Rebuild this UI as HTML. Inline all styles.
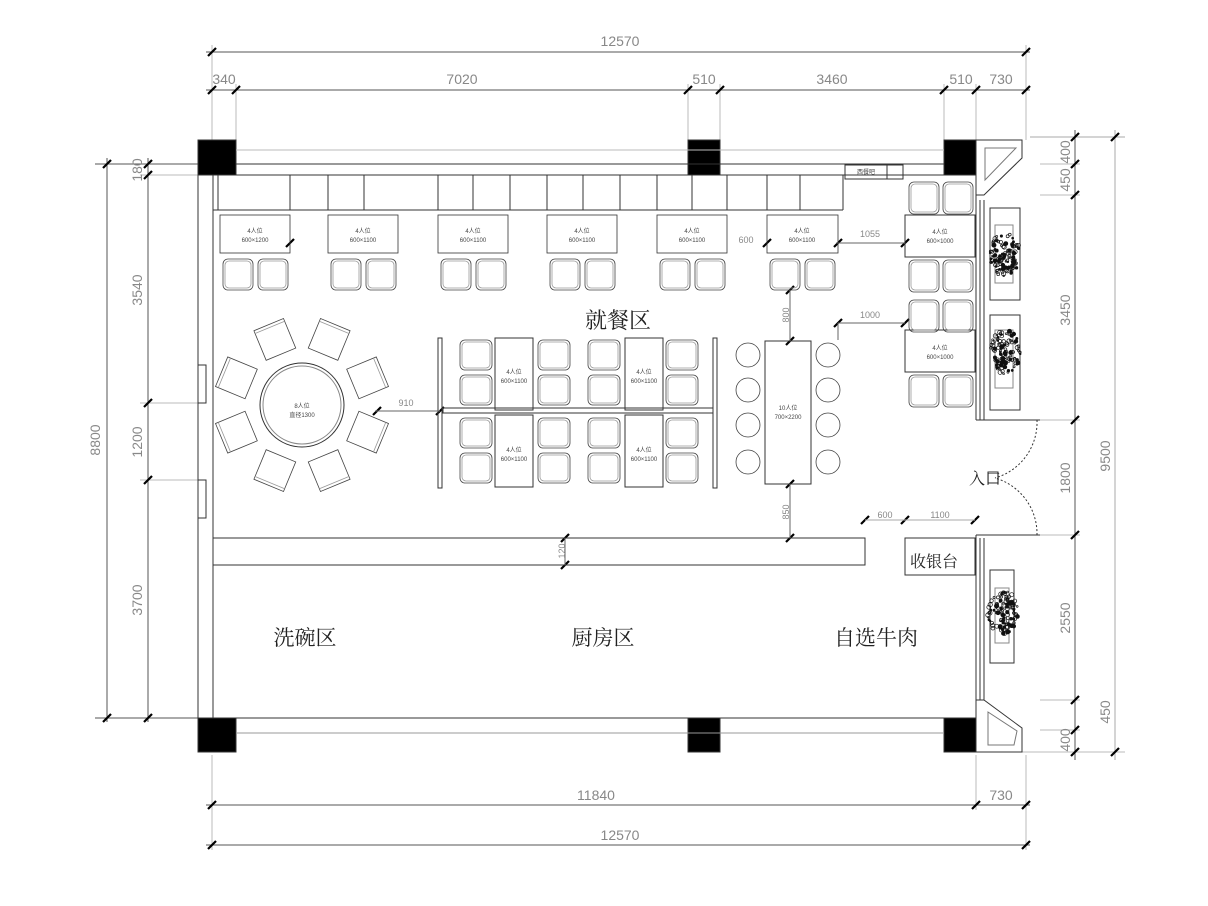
<!DOCTYPE html>
<html><head><meta charset="utf-8"><style>
html,body{margin:0;padding:0;background:#fff;width:1208px;height:906px;overflow:hidden}
svg{display:block}
.d{font-family:"Liberation Sans",sans-serif;fill:#888;font-size:14px}
.s{font-family:"Liberation Serif","Noto Serif CJK SC",serif;fill:#222}
.t{font-family:"Liberation Sans","Noto Sans CJK SC",sans-serif;fill:#444;font-size:6px}
</style></head><body>
<svg id="g" width="1208" height="906" viewBox="0 0 1208 906" xmlns="http://www.w3.org/2000/svg">
<g stroke="#555" stroke-width="1" fill="none" id="lines">
<line x1="206" y1="52" x2="1030" y2="52"/>
<line x1="206" y1="90" x2="1030" y2="90"/>
<line x1="1030" y1="137" x2="1125" y2="137" stroke="#aaa"/>
<line x1="107" y1="158" x2="107" y2="722"/>
<line x1="148" y1="158" x2="148" y2="722"/>
<line x1="95" y1="164" x2="198" y2="164"/>
<line x1="95" y1="718" x2="198" y2="718"/>
<line x1="1075" y1="130" x2="1075" y2="760"/>
<line x1="1115" y1="130" x2="1115" y2="760" stroke="#aaa"/>
<line x1="206" y1="805" x2="1030" y2="805"/>
<line x1="206" y1="845" x2="1030" y2="845"/>
</g>
<g stroke="#bbb" stroke-width="1" fill="none">
<line x1="212" y1="45" x2="212" y2="140"/><line x1="1026" y1="45" x2="1026" y2="140"/>
<line x1="236" y1="84" x2="236" y2="140"/><line x1="688" y1="84" x2="688" y2="140"/>
<line x1="720" y1="84" x2="720" y2="140"/><line x1="944" y1="84" x2="944" y2="140"/>
<line x1="976" y1="84" x2="976" y2="140"/>
<line x1="140" y1="175" x2="198" y2="175"/><line x1="140" y1="403" x2="198" y2="403"/><line x1="140" y1="480" x2="198" y2="480"/>
<line x1="1040" y1="164" x2="1080" y2="164"/><line x1="1040" y1="195" x2="1080" y2="195"/>
<line x1="1030" y1="420" x2="1080" y2="420"/><line x1="1030" y1="535" x2="1080" y2="535"/>
<line x1="1040" y1="700" x2="1080" y2="700"/><line x1="1040" y1="730" x2="1080" y2="730"/>
<line x1="1020" y1="752" x2="1125" y2="752"/>
<line x1="212" y1="755" x2="212" y2="850"/><line x1="976" y1="755" x2="976" y2="810"/><line x1="1026" y1="755" x2="1026" y2="850"/>
</g>
<g id="ticks" stroke="#000" stroke-width="2.2"></g>
<g class="d">
<text x="620" y="46" text-anchor="middle">12570</text>
<text x="224" y="84" text-anchor="middle">340</text>
<text x="462" y="84" text-anchor="middle">7020</text>
<text x="704" y="84" text-anchor="middle">510</text>
<text x="832" y="84" text-anchor="middle">3460</text>
<text x="961" y="84" text-anchor="middle">510</text>
<text x="1001" y="84" text-anchor="middle">730</text>
<text x="596" y="800" text-anchor="middle">11840</text>
<text x="1001" y="800" text-anchor="middle">730</text>
<text x="620" y="840" text-anchor="middle">12570</text>
<text transform="translate(100,440) rotate(-90)" text-anchor="middle">8800</text>
<text transform="translate(142,170) rotate(-90)" text-anchor="middle">180</text>
<text transform="translate(142,290) rotate(-90)" text-anchor="middle">3540</text>
<text transform="translate(142,442) rotate(-90)" text-anchor="middle">1200</text>
<text transform="translate(142,600) rotate(-90)" text-anchor="middle">3700</text>
<text transform="translate(1070,152) rotate(-90)" text-anchor="middle">400</text>
<text transform="translate(1070,180) rotate(-90)" text-anchor="middle">450</text>
<text transform="translate(1070,310) rotate(-90)" text-anchor="middle">3450</text>
<text transform="translate(1070,478) rotate(-90)" text-anchor="middle">1800</text>
<text transform="translate(1070,618) rotate(-90)" text-anchor="middle">2550</text>
<text transform="translate(1110,712) rotate(-90)" text-anchor="middle">450</text>
<text transform="translate(1070,740) rotate(-90)" text-anchor="middle">400</text>
<text transform="translate(1110,456) rotate(-90)" text-anchor="middle">9500</text>
</g>
<g class="d" style="font-size:9px">
<text x="746" y="243" text-anchor="middle">600</text>
<text x="870" y="237" text-anchor="middle">1055</text>
<text x="870" y="318" text-anchor="middle">1000</text>
<text x="406" y="406" text-anchor="middle">910</text>
<text x="885" y="518" text-anchor="middle">600</text>
<text x="940" y="518" text-anchor="middle">1100</text>
<text transform="translate(789,315) rotate(-90)" text-anchor="middle">800</text>
<text transform="translate(789,512) rotate(-90)" text-anchor="middle">850</text>
<text transform="translate(565,551) rotate(-90)" text-anchor="middle">120</text>
</g>
<g stroke="#333" stroke-width="1" fill="none">
<rect x="198" y="140" width="38" height="35" fill="#000"/>
<rect x="688" y="140" width="32" height="35" fill="#000"/>
<rect x="944" y="140" width="32" height="35" fill="#000"/>
<rect x="198" y="718" width="38" height="34" fill="#000"/>
<rect x="688" y="718" width="32" height="34" fill="#000"/>
<rect x="944" y="718" width="32" height="34" fill="#000"/>
<line x1="236" y1="150" x2="944" y2="150" stroke="#bbb"/>
<line x1="236" y1="164" x2="944" y2="164"/>
<line x1="236" y1="175" x2="944" y2="175"/>
<line x1="198" y1="175" x2="198" y2="718"/>
<line x1="213" y1="175" x2="213" y2="718"/>
<line x1="236" y1="718" x2="944" y2="718"/>
<line x1="236" y1="733" x2="944" y2="733" stroke="#999"/>
<rect x="198" y="365" width="8" height="38"/><rect x="198" y="480" width="8" height="38"/>
<line x1="213" y1="210" x2="843" y2="210"/>
<path d="M218 175V210M290 175V210M328 175V210M364 175V210M438 175V210M473 175V210M510 175V210M547 175V210M583 175V210M620 175V210M657 175V210M692 175V210M727 175V210M767 175V210M800 175V210M843 175V210"/>
<rect x="845" y="165" width="42" height="14"/><rect x="887" y="165" width="16" height="14"/>
<line x1="903" y1="175" x2="944" y2="175"/>
<path d="M976 140H1022L1022 158 984 195H976Z"/>
<path d="M985 148H1016L985 180Z" stroke="#777"/>
<line x1="976" y1="195" x2="976" y2="420"/><line x1="980" y1="200" x2="980" y2="420"/><line x1="984" y1="200" x2="984" y2="420"/>
<line x1="976" y1="420" x2="1040" y2="420"/>
<line x1="976" y1="535" x2="1040" y2="535"/>
<line x1="976" y1="535" x2="976" y2="718"/><line x1="980" y1="538" x2="980" y2="700"/><line x1="984" y1="538" x2="984" y2="700"/>
<path d="M976 700H984L1022 728V752H976Z"/>
<path d="M988 712L1017 731 1014 745H988Z" stroke="#777"/>
<line x1="976" y1="752" x2="1022" y2="752"/>
<rect x="990" y="208" width="30" height="92"/><rect x="995" y="225" width="18" height="58" stroke="#888"/>
<rect x="990" y="315" width="30" height="95"/><rect x="995" y="330" width="18" height="58" stroke="#888"/>
<rect x="990" y="570" width="24" height="93"/><rect x="995" y="588" width="14" height="55" stroke="#888"/>
<path d="M1037 420A58 58 0 0 1 995 478" stroke-dasharray="2 2"/>
<path d="M1037 535A58 58 0 0 0 995 478" stroke-dasharray="2 2"/>
<rect x="988" y="472" width="10" height="11"/>
<rect x="213" y="538" width="652" height="27"/>
<rect x="905" y="538" width="70" height="37"/>
<rect x="438" y="338" width="4" height="150"/><rect x="713" y="338" width="4" height="150"/>
<rect x="443" y="408" width="270" height="5"/>
<rect x="495" y="338" width="38" height="72"/><rect x="625" y="338" width="38" height="72"/>
<rect x="495" y="415" width="38" height="72"/><rect x="625" y="415" width="38" height="72"/>
<rect x="765" y="341" width="46" height="143"/>
<circle cx="302" cy="405" r="42"/><circle cx="302" cy="405" r="39" stroke="#888"/>
<rect x="905" y="215" width="70" height="42"/><rect x="905" y="330" width="70" height="42"/>
</g>
<g stroke="#666" stroke-width="1" fill="none">
<line x1="836" y1="243" x2="905" y2="243"/>
<line x1="838" y1="323" x2="905" y2="323"/><line x1="838" y1="323" x2="838" y2="340"/>
<line x1="790" y1="290" x2="790" y2="341"/>
<line x1="790" y1="484" x2="790" y2="538"/>
<line x1="375" y1="411" x2="440" y2="411"/>
<line x1="565" y1="538" x2="565" y2="565"/>
<line x1="865" y1="520" x2="975" y2="520" stroke="#aaa"/>
</g>
<g id="furn" stroke="#444" stroke-width="0.8" fill="none"></g>
<g id="plants" stroke="#111" stroke-width="0.7" fill="none"></g>
<g class="t" text-anchor="middle">
<text x="255" y="233">4人位</text><text x="255" y="242">600×1200</text>
<text x="363" y="233">4人位</text><text x="363" y="242">600×1100</text>
<text x="473" y="233">4人位</text><text x="473" y="242">600×1100</text>
<text x="582" y="233">4人位</text><text x="582" y="242">600×1100</text>
<text x="692" y="233">4人位</text><text x="692" y="242">600×1100</text>
<text x="802" y="233">4人位</text><text x="802" y="242">600×1100</text>
<text x="940" y="234">4人位</text><text x="940" y="243">600×1000</text>
<text x="940" y="350">4人位</text><text x="940" y="359">600×1000</text>
<text x="514" y="374">4人位</text><text x="514" y="383">600×1100</text>
<text x="644" y="374">4人位</text><text x="644" y="383">600×1100</text>
<text x="514" y="452">4人位</text><text x="514" y="461">600×1100</text>
<text x="644" y="452">4人位</text><text x="644" y="461">600×1100</text>
<text x="788" y="410">10人位</text><text x="788" y="419">700×2200</text>
<text x="302" y="408">8人位</text><text x="302" y="417">直径1300</text>
<text x="866" y="174">西餐吧</text>
</g>
<g class="s">
<text x="618" y="328" font-size="22" text-anchor="middle">就餐区</text>
<text x="305" y="645" font-size="21" text-anchor="middle">洗碗区</text>
<text x="603" y="645" font-size="21" text-anchor="middle">厨房区</text>
<text x="876" y="645" font-size="21" text-anchor="middle">自选牛肉</text>
<text x="934" y="567" font-size="16" text-anchor="middle">收银台</text>
<text x="985" y="484" font-size="16" text-anchor="middle">入口</text>
</g>
</svg>
<script>
var NS="http://www.w3.org/2000/svg";
function el(p,t,a){var e=document.createElementNS(NS,t);for(var k in a)e.setAttribute(k,a[k]);p.appendChild(e);return e;}
var T=document.getElementById("ticks");
function tk(x,y){el(T,"line",{x1:x-4,y1:y+4,x2:x+4,y2:y-4});}
[212,1026].forEach(function(x){tk(x,52)});
[212,236,688,720,944,976,1026].forEach(function(x){tk(x,90)});
[212,976,1026].forEach(function(x){tk(x,805)});[212,1026].forEach(function(x){tk(x,845)});
[164,718].forEach(function(y){tk(107,y)});
[164,175,403,480,718].forEach(function(y){tk(148,y)});
[137,164,195,420,535,700,730,752].forEach(function(y){tk(1075,y)});
[137,752].forEach(function(y){tk(1115,y)});
[[290,243],[767,243],[838,243],[905,243],[838,323],[905,323],[790,290],[790,341],[790,484],[790,538],[377,411],[440,411],[565,538],[565,565],[865,520],[905,520],[975,520]].forEach(function(p){tk(p[0],p[1])});
var F=document.getElementById("furn");
function chair(x,y,w,h){el(F,"rect",{x:x,y:y,width:w,height:h,rx:5});el(F,"rect",{x:x+2,y:y+2,width:w-4,height:h-4,rx:4,stroke:"#999"});}
[[220,290],[328,398],[438,508],[547,617],[657,727],[767,838]].forEach(function(t){
 el(F,"rect",{x:t[0],y:215,width:t[1]-t[0],height:38,stroke:"#333"});
 chair(t[0]+3,259,30,31);chair(t[0]+38,259,30,31);});
[182,260,300,375].forEach(function(y){chair(909,y,30,32);chair(943,y,30,32);});
[[460,340],[460,375],[460,418],[460,453],[538,340],[538,375],[538,418],[538,453],[588,340],[588,375],[588,418],[588,453],[666,340],[666,375],[666,418],[666,453]].forEach(function(c){chair(c[0],c[1],32,30);});
[355,390,425,462].forEach(function(y){el(F,"circle",{cx:748,cy:y,r:12});el(F,"circle",{cx:828,cy:y,r:12});});
for(var i=0;i<8;i++){var a=(i*45+22.5)*Math.PI/180,cx=302+70*Math.cos(a),cy=405+70*Math.sin(a);
 var g=el(F,"g",{transform:"translate("+cx+","+cy+") rotate("+(i*45+22.5+90)+")"});
 el(g,"rect",{x:-16,y:-17,width:32,height:32});el(g,"line",{x1:-16,y1:-14,x2:16,y2:-14,stroke:"#999"});}
var P=document.getElementById("plants");var sd=7;function rnd(){sd=(sd*9301+49297)%233280;return sd/233280;}
[[1005,255],[1005,352],[1003,612]].forEach(function(c){
 for(var k=0;k<110;k++){var r=Math.sqrt(rnd())*17,a=rnd()*6.28;el(P,"circle",{cx:c[0]+r*Math.cos(a)*0.9,cy:c[1]+r*Math.sin(a)*1.3,r:0.8+rnd()*1.4,fill:(k%3==0?"#111":"none")});}});
</script>
</body></html>
